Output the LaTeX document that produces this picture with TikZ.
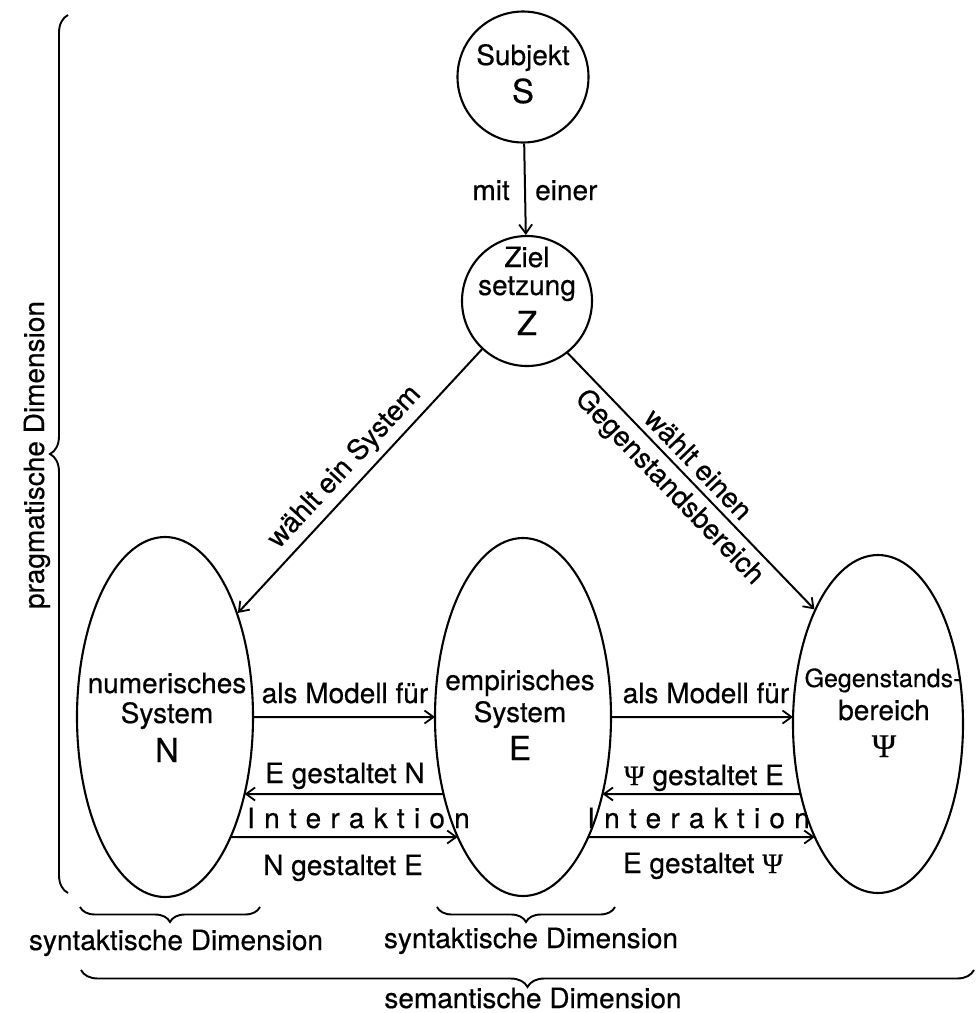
\documentclass[tikz,border=0pt]{standalone}
\usepackage{fontspec}
\setmainfont{TeX Gyre Heros}[FakeBold=0.5]
\newfontfamily\psifont{Liberation Serif}[FakeBold=0.5]
\usetikzlibrary{shapes.geometric,arrows.meta,decorations.pathreplacing,intersections}

\begin{document}
\begin{tikzpicture}[x=1pt,y=-1pt,
  lbl/.style={font=\fontsize{28}{30}\selectfont, inner sep=0pt, anchor=base},
  dl/.style={font=\fontsize{28}{30}\selectfont, inner sep=0pt},
  big/.style={font=\fontsize{33}{36}\selectfont, inner sep=0pt, anchor=base},
  spaced/.style={font=\fontsize{28}{30}\selectfont\addfontfeature{LetterSpace=33}, inner sep=0pt, anchor=base west},
  circ/.style={draw, circle, line width=2.1pt, inner sep=0pt, minimum size=#1},
  oval/.style 2 args={draw, ellipse, line width=2.1pt, inner sep=0pt, minimum width=#1, minimum height=#2},
  arr/.style={line width=2pt, -{Straight Barb[length=9pt,width=13pt,line width=1.8pt]}},
  brc/.style={decorate, decoration={brace, amplitude=#1}, line width=1.9pt},
]
\useasboundingbox (0,0) rectangle (976,1013);

% circles and ellipses
\node[circ=131] (S) at (523,77) {};
\node[circ=130] (Z) at (527,301) {};
\node[oval={176}{360}, name path=pN] (N) at (165,717) {};
\node[oval={176}{358}, name path=pE] (E) at (523,717) {};
\node[oval={170}{338}, name path=pP] (P) at (878,724) {};

% texts inside
\node[lbl] (tS) at (523,65) {Subjekt};
\node[big] (lS) at (523,103) {S};
\node[lbl] (tZ1) at (527,267) {Ziel};
\node[lbl] (tZ2) at (527,295) {setzung};
\node[big] (lZ) at (527,335) {Z};
\node[lbl] (tN1) at (167,693) {numerisches};
\node[lbl] (tN2) at (167,723) {System};
\node[big] (lN) at (167,762) {N};
\node[lbl] (tE1) at (520,690) {empirisches};
\node[lbl] (tE2) at (520,722) {System};
\node[big] (lE) at (520,760) {E};
\node[lbl, font=\fontsize{25}{30}\selectfont] (tP1) at (883,687) {Gegenstands-};
\node[lbl] (tP2) at (884,720) {bereich};
\node[big] (lP) at (884,757) {\psifont Ψ};

% S to Z
\draw[arr] (S) -- (Z);
\node[lbl, anchor=base east] (mit) at (510,200) {mit};
\node[lbl, anchor=base west] (einer) at (535,200) {einer};

% Z to N and Z to P
\draw[arr] (Z.-133) -- node[sloped, above=6pt, dl] (ws) {wählt ein System} (N.55);
\draw[arr] (Z.-52.5) -- node[pos=0.48, sloped, above=6pt, dl] (we) {wählt einen}
                        node[pos=0.47, sloped, below=6pt, dl] (gb) {Gegenstandsbereich} (P.119);

% horizontal connectors
\path[name path=h1] (0,717) -- (976,717);
\path[name path=h2] (0,794) -- (976,794);
\path[name path=h3] (0,837) -- (976,837);
\path[name intersections={of=pN and h1, sort by=h1, by={n1a,n1b}}];
\path[name intersections={of=pN and h2, sort by=h2, by={n2a,n2b}}];
\path[name intersections={of=pN and h3, sort by=h3, by={n3a,n3b}}];
\path[name intersections={of=pE and h1, sort by=h1, by={e1a,e1b}}];
\path[name intersections={of=pE and h2, sort by=h2, by={e2a,e2b}}];
\path[name intersections={of=pE and h3, sort by=h3, by={e3a,e3b}}];
\path[name intersections={of=pP and h1, sort by=h1, by={p1a,p1b}}];
\path[name intersections={of=pP and h2, sort by=h2, by={p2a,p2b}}];
\path[name intersections={of=pP and h3, sort by=h3, by={p3a,p3b}}];

\draw[arr] (n1b) -- (e1a);
\draw[arr] (e2a) -- (n2b);
\draw[arr] (n3b) -- (e3a);
\draw[arr] (e1b) -- (p1a);
\draw[arr] (p2a) -- (e2b);
\draw[arr] (e3b) -- (p3a);

\node[lbl] (m1) at (345,703) {als Modell für};
\node[lbl] (g1) at (345,783) {E gestaltet N};
\node[spaced] (i1) at (247,828) {Interaktion};
\node[lbl] (g2) at (343,875) {N gestaltet E};
\node[lbl] (m2) at (706,703) {als Modell für};
\node[lbl] (g3) at (704,785) {{\psifont Ψ} gestaltet E};
\node[spaced] (i2) at (587,828) {Interaktion};
\node[lbl] (g4) at (703,873) {E gestaltet {\psifont Ψ}};

% dimension braces
\draw[brc=18pt] (68,893) -- (68,15);
\node[lbl, rotate=90] (pd) at (44,455) {pragmatische Dimension};
\draw[brc=15pt] (260,907) -- (80,907);
\node[lbl] (sy1) at (176,950) {syntaktische Dimension};
\draw[brc=15pt] (615,907) -- (437,907);
\node[lbl] (sy2) at (531,948) {syntaktische Dimension};
\draw[brc=17pt] (974,970) -- (81,970);
\node[lbl] (se) at (533,1008) {semantische Dimension};
\end{tikzpicture}
\end{document}
